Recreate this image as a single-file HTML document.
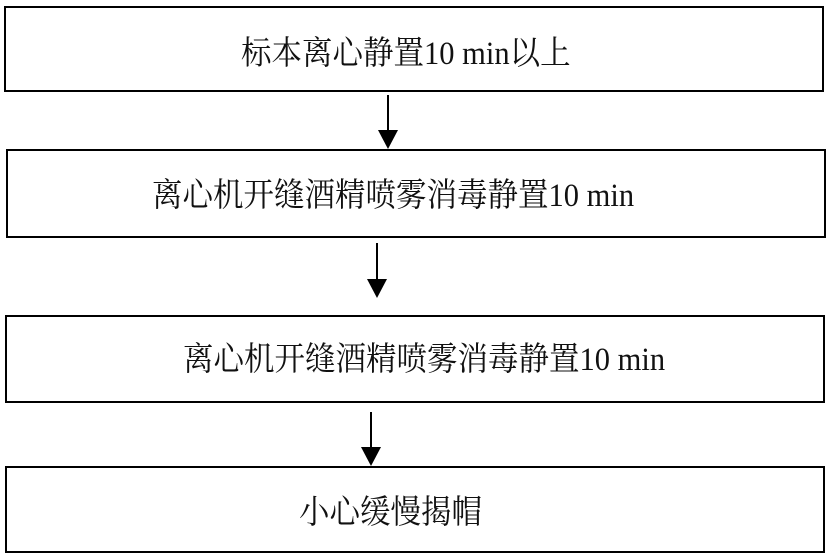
<!DOCTYPE html>
<html><head><meta charset="utf-8"><style>
body{margin:0;width:827px;height:559px;background:#fff;position:relative;overflow:hidden;font-family:"Liberation Serif","Noto Serif CJK SC",serif;}
.b{position:absolute;border:2px solid #000;box-sizing:border-box;}
.t{position:absolute;white-space:nowrap;font-size:30.5px;line-height:30px;color:#111;transform:scaleY(1.08);transform-origin:left center;}
</style></head><body>
<div class="b" style="left:4px;top:6px;width:820px;height:86px"></div>
<div class="b" style="left:6px;top:149px;width:820px;height:89px"></div>
<div class="b" style="left:5px;top:315px;width:820px;height:88px"></div>
<div class="b" style="left:5px;top:466px;width:820px;height:87px"></div>
<div class="t" style="left:241px;top:38px">标本离心静置10 min以上</div>
<div class="t" style="left:152px;top:180px">离心机开缝酒精喷雾消毒静置10 min</div>
<div class="t" style="left:183px;top:344px">离心机开缝酒精喷雾消毒静置10 min</div>
<div class="t" style="left:299px;top:497px">小心缓慢揭帽</div>
<svg width="827" height="559" style="position:absolute;left:0;top:0">
<g stroke="#000" stroke-width="2">
<line x1="388" y1="95" x2="388" y2="132"/>
<line x1="377" y1="243" x2="377" y2="281"/>
<line x1="371" y1="412" x2="371" y2="449"/>
</g>
<g fill="#000">
<polygon points="378,130 398,130 388,149"/>
<polygon points="367,279 387,279 377,298"/>
<polygon points="361,447 381,447 371,466"/>
</g>
</svg>
</body></html>
